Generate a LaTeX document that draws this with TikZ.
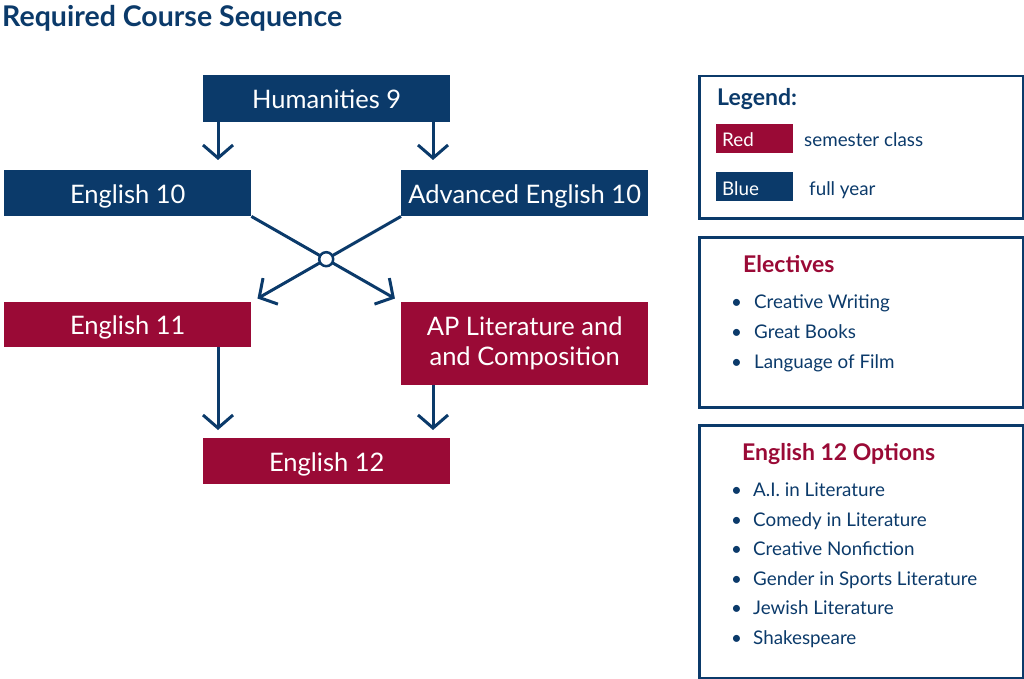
\documentclass[tikz,border=0pt]{standalone}
\usepackage{fontspec}
\setmainfont{Lato}
\usetikzlibrary{arrows.meta,calc,intersections}
\definecolor{navy}{HTML}{0B3A6A}
\definecolor{crimson}{HTML}{9A0A36}
\tikzset{
  course/.style={anchor=north west,inner sep=0pt,text=white,font=\fontsize{25.5}{30}\selectfont,align=center,minimum width=247pt},
  oneline/.style={text height=25pt,text depth=5pt},
  bluebox/.style={course,fill=navy},
  redbox/.style={course,fill=crimson},
  arr/.style={draw=navy,line width=3pt,-{Straight Barb[length=13pt,width=30pt,line width=3pt]}},
  panel/.style={draw=navy,line width=2.5pt,anchor=north west,inner sep=0pt},
  ptitle/.style={anchor=base west,inner sep=0pt,font=\bfseries\fontsize{23}{27}\selectfont},
  item/.style={anchor=base west,inner sep=0pt,text=navy,font=\fontsize{18.8}{22}\selectfont},
  swatch/.style={anchor=north west,inner sep=0pt,minimum width=77pt,minimum height=29pt},
  swtext/.style={anchor=base west,inner sep=0pt,text=white,font=\fontsize{18.8}{22}\selectfont}
}
\begin{document}
\begin{tikzpicture}[x=1pt,y=-1pt]
\useasboundingbox (0,0) rectangle (1024,679);
% title
\node[anchor=base west,inner sep=0pt,text=navy,font=\bfseries\fontsize{28.5}{32}\selectfont] (title) at (2,27) {Required Course Sequence};
% course boxes
\node[bluebox,oneline,minimum height=47pt] (h9) at (203,75) {Humanities 9};
\node[bluebox,oneline,minimum height=46pt] (e10) at (4,170) {English 10};
\node[bluebox,oneline,minimum height=46pt] (a10) at (401,170) {Advanced English 10};
\node[redbox,oneline,minimum height=45pt] (e11) at (4,302) {English 11};
\node[redbox,minimum height=83pt] (ap) at (401,302) {AP Literature and\\and Composition};
\node[redbox,oneline,minimum height=46pt] (e12) at (203,438) {English 12};
% arrow columns
\coordinate (cl) at (218,0);
\coordinate (cr) at (433,0);
\draw[arr,shorten >=10pt] (h9.south -| cl) -- (e10.north -| cl);
\draw[arr,shorten >=10pt] (h9.south -| cr) -- (a10.north -| cr);
\draw[arr,shorten >=8pt] (e11.south -| cl) -- (e12.north -| cl);
\draw[arr,shorten >=8pt] (ap.south -| cr) -- (e12.north -| cr);
% crossing
\draw[arr,shorten >=7pt,name path=p1] (e10.south east) -- (ap.north west);
\draw[arr,shorten >=7pt,name path=p2] (a10.south west) -- (e11.north east);
\path[name intersections={of=p1 and p2,by=x}];
\node[circle,draw=navy,fill=white,line width=2.5pt,minimum size=14pt,inner sep=0pt] (xc) at (x) {};
% legend panel
\node[panel,minimum width=324pt,minimum height=142pt] (leg) at (698,75) {};
\node[ptitle,text=navy] (legt) at (717,106) {Legend:};
\node[swatch,fill=crimson] (red) at (716,124) {};
\node[swtext] (redt) at (722,147) {Red};
\node[item] (sem) at (804,147) {semester class};
\node[swatch,fill=navy] (blue) at (716,172) {};
\node[swtext] (bluet) at (722,195) {Blue};
\node[item] (fy) at (809,195) {full year};
% electives panel
\node[panel,minimum width=324pt,minimum height=170pt] (el) at (698,236) {};
\node[ptitle,text=crimson] (elt) at (743,272) {Electives};
\foreach \t [count=\i] in {Creative Writing,Great Books,Language of Film}{
  \node[item] (eb\i) at (731,278+30*\i) {•};
  \node[item] (ei\i) at (754,278+30*\i) {\t};
}
% english 12 options panel
\node[panel,minimum width=324pt,minimum height=253pt] (op) at (698,424) {};
\node[ptitle,text=crimson] (opt) at (742,460) {English 12 Options};
\foreach \t [count=\i] in {A.I. in Literature,Comedy in Literature,Creative Nonfiction,Gender in Sports Literature,Jewish Literature,Shakespeare}{
  \node[item] (ob\i) at (731,467.3+29.5*\i) {•};
  \node[item] (oi\i) at (753,467.3+29.5*\i) {\t};
}
\end{tikzpicture}
\end{document}
